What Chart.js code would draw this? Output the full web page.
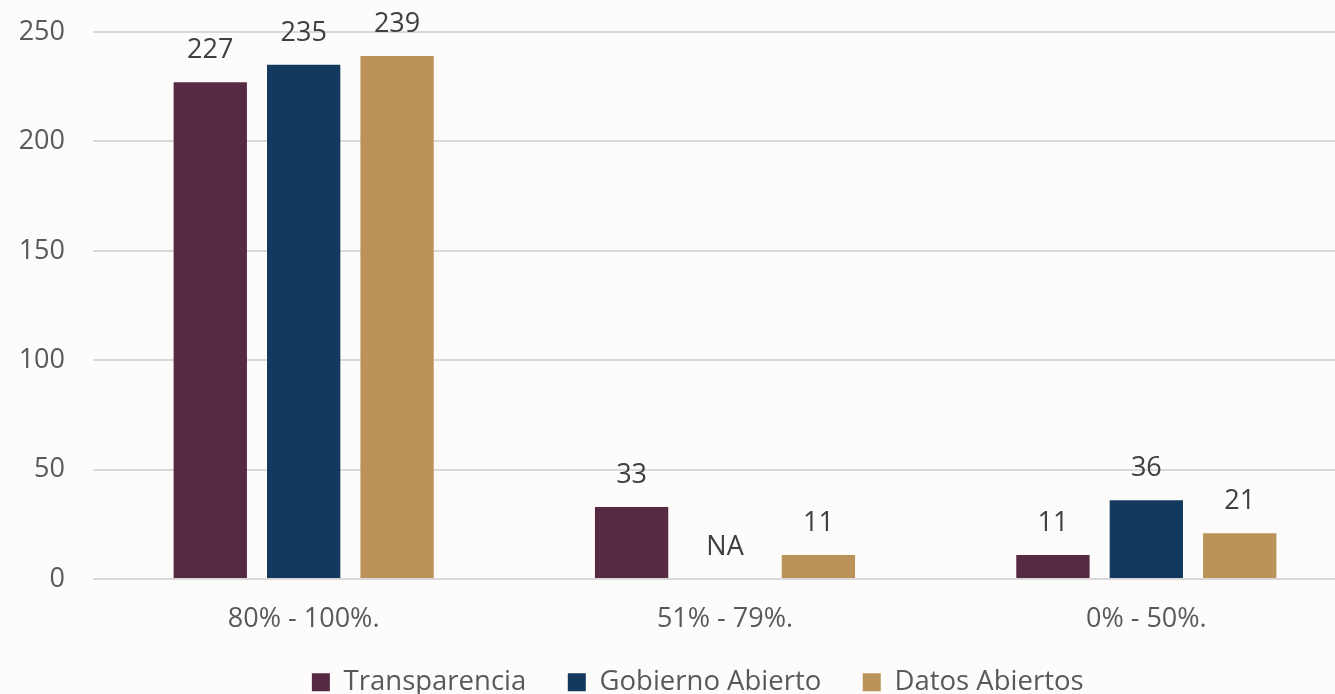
<!DOCTYPE html>
<html>
<head>
<meta charset="utf-8">
<script src="https://cdn.jsdelivr.net/npm/chart.js@4"></script>
<style>
  html, body { margin: 0; padding: 0; overflow: hidden; background: #fdfcfa; }
  #wrap { width: 1357px; height: 694px; position: relative; }
</style>
</head>
<body>
<div id="wrap"><canvas id="myChart"></canvas></div>
<script>
// categories and values
const categories = ["80% - 100%.", "51% - 79%.", "0% - 50%."];
const transparencia = [227, 33, 11];
const gobiernoAbierto = [235, null, 36]; // NA in the middle group
const datosAbiertos = [239, 11, 21];
const yTicks = [0, 50, 100, 150, 200, 250];

const FONT = "'Open Sans', 'Noto Sans', sans-serif";
const LEGEND_DX = 33;  // legend sits a bit right of the canvas centre
const LEGEND_DY = -5;

// draws the number above each bar, "NA" where there is no value
const barLabels = {
    id: "barLabels",
    afterDatasetsDraw(chart) {
        const ctx = chart.ctx;
        const yScale = chart.scales.y;
        ctx.save();
        ctx.font = "27px " + FONT;
        ctx.fillStyle = "#404040";
        ctx.textAlign = "center";
        ctx.textBaseline = "middle";
        chart.data.datasets.forEach((ds, di) => {
            const meta = chart.getDatasetMeta(di);
            meta.data.forEach((bar, i) => {
                const v = ds.data[i];
                const top = v == null ? yScale.getPixelForValue(0) : bar.y;
                const text = v == null ? "NA" : String(v);
                ctx.fillText(text, bar.x, top - 32);
            });
        });
        ctx.restore();
    }
};

// nudge the legend into place
const legendShift = {
    id: "legendShift",
    afterLayout(chart) {
        const lg = chart.legend;
        lg.left += LEGEND_DX; lg.right += LEGEND_DX;
        lg.top += LEGEND_DY; lg.bottom += LEGEND_DY;
    }
};

const ctx = document.getElementById("myChart").getContext("2d");

new Chart(ctx, {
    type: "bar",
    data: {
        labels: categories,
        datasets: [
            { label: "Transparencia", data: transparencia, backgroundColor: "#572a43" },
            { label: "Gobierno Abierto", data: gobiernoAbierto, backgroundColor: "#133a5e" },
            { label: "Datos Abiertos", data: datosAbiertos, backgroundColor: "#bb935a" }
        ]
    },
    options: {
        responsive: true,
        maintainAspectRatio: false,
        animation: false,
        categoryPercentage: 0.665,
        barPercentage: 0.785,
        layout: { padding: { left: 0, top: 32, right: 0, bottom: -17 } },
        plugins: {
            tooltip: { enabled: false },
            legend: {
                position: "bottom",
                labels: {
                    boxWidth: 18,
                    boxHeight: 18,
                    padding: 14,
                    color: "#595959",
                    font: { family: FONT, size: 27.5 },
                    generateLabels(chart) {
                        const items = Chart.defaults.plugins.legend.labels.generateLabels(chart);
                        items.forEach(it => { it.text = it.text + "\u2003"; });
                        return items;
                    }
                }
            }
        },
        scales: {
            x: {
                grid: { display: false, drawTicks: false },
                border: { display: false },
                ticks: {
                    padding: 24,
                    color: "#595959",
                    font: { family: FONT, size: 27 }
                }
            },
            y: {
                min: 0,
                max: 250,
                afterFit(scale) {
                    scale.width = 93;
                    scale.paddingTop = 0;
                    scale.paddingBottom = 0;
                },
                afterBuildTicks(scale) { scale.ticks = yTicks.map(v => ({ value: v })); },
                grid: { color: "#d9d9d9", lineWidth: 2, drawTicks: false },
                border: { display: false },
                ticks: {
                    padding: 28,
                    color: "#595959",
                    font: { family: FONT, size: 27 }
                }
            }
        }
    },
    plugins: [barLabels, legendShift]
});
</script>
</body>
</html>
